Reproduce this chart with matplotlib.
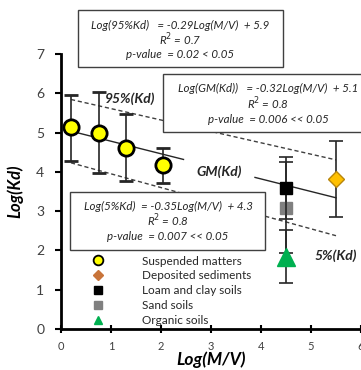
import matplotlib
matplotlib.use("Agg")
import matplotlib.pyplot as plt
from matplotlib.patches import Rectangle
from matplotlib.lines import Line2D

plt.rcParams['font.family'] = ['Lato', 'DejaVu Sans']

# suspended matters
sm_x = [0.2, 0.75, 1.3, 2.03]
sm_y = [5.15, 5.0, 4.61, 4.17]
sm_lo = [0.87, 1.02, 0.84, 0.46]
sm_hi = [0.8, 1.04, 0.86, 0.43]

# deposited sediments
ds_x = [5.5]
ds_y = [3.81]
ds_err = [0.97]

# soils
loam_x, loam_y, loam_err = [4.5], [3.58], [0.79]
sand_x, sand_y, sand_err = [4.5], [3.09], [1.15]
org_x, org_y, org_err = [4.5], [1.84], [0.68]

# regressions (slope, intercept)
reg_95 = (-0.29, 5.9)
reg_gm = (-0.32, 5.1)
reg_5 = (-0.35, 4.3)
reg_x = [0.2, 5.5]
gm_segments = [[0.2, 2.45], [3.88, 5.5]]

box_95 = ["Log(95%Kd)   = -0.29Log(M/V)  + 5.9", "R$^2$ = 0.7", "p-value  = 0.02 < 0.05"]
box_gm = ["Log(GM(Kd))   = -0.32Log(M/V)  + 5.1", "R$^2$ = 0.8", "p-value  = 0.006 << 0.05"]
box_5 = ["Log(5%Kd)  = -0.35Log(M/V)  + 4.3", "R$^2$ = 0.8", "p-value  = 0.007 << 0.05"]

W, H = 361, 370
fig = plt.figure(figsize=(W / 100, H / 100), dpi=100)
xmax = 6.3
ax = fig.add_axes([61 / W, 41 / H, 50 * xmax / W, 275 / H])
ax.set_xlim(0, xmax)
ax.set_ylim(0, 7)

ax.spines['top'].set_visible(False)
ax.spines['right'].set_visible(False)
for s in ['left', 'bottom']:
    ax.spines[s].set_linewidth(2)
ax.set_xticks(range(0, 7))
ax.set_yticks(range(0, 8))
ax.tick_params(axis='both', direction='out', length=4, width=1.5, colors='black',
               labelcolor='#404040', labelsize=10)
ax.tick_params(axis='y', pad=8)
ax.tick_params(axis='x', direction='inout', length=6, labelsize=8, pad=6)

ax.set_xlabel('Log(M/V)', fontsize=12.5, fontweight='bold', style='italic')
ax.xaxis.set_label_coords(3 / xmax, -0.082)
ax.set_ylabel('Log(Kd)', fontsize=12, fontweight='bold', style='italic')
ax.yaxis.set_label_coords(-0.118, 0.5)

# regression lines
def line(reg, xs):
    return [reg[0] * x + reg[1] for x in xs]

ax.plot(reg_x, line(reg_95, reg_x), ls=(0, (3, 2)), color='#404040', lw=1, zorder=2)
ax.plot(reg_x, line(reg_5, reg_x), ls=(0, (3, 2)), color='#404040', lw=1, zorder=2)
for seg in gm_segments:
    ax.plot(seg, line(reg_gm, seg), color='#262626', lw=1, zorder=2)

eb = dict(capsize=5, elinewidth=1.2, capthick=1.2, ecolor='#262626', ls='none')
ax.errorbar(sand_x, sand_y, yerr=sand_err, marker='s', ms=9, mfc='#808080', mec='#808080', zorder=3, **eb)
ax.errorbar(loam_x, loam_y, yerr=loam_err, marker='s', ms=9, mfc='black', mec='black', zorder=4, **eb)
ax.errorbar(org_x, org_y, yerr=org_err, marker='^', ms=13, mfc='#00B050', mec='#00B050', zorder=4, **eb)
ax.errorbar(ds_x, ds_y, yerr=ds_err, marker='D', ms=8, mfc='#FFC000', mec='#B8860B', zorder=4, **eb)
ax.errorbar(sm_x, sm_y, yerr=[sm_lo, sm_hi], marker='o', ms=11, mfc='#FFFF00', mec='black',
            mew=2, zorder=5, **eb)

lab = dict(fontsize=10, fontweight='bold', style='italic', color='#262626')
ax.text(1.38, 5.85, '95%(Kd)', ha='center', va='center', **lab)
ax.text(3.16, 4.0, 'GM(Kd)', ha='center', va='center',
        bbox=dict(facecolor='white', edgecolor='none', pad=1), zorder=3, **lab)
ax.text(5.08, 1.87, '5%(Kd)', ha='left', va='center', **lab)

# legend
handles = [
    Line2D([], [], ls='none', marker='o', ms=7, mfc='#FFFF00', mec='black', mew=1.3),
    Line2D([], [], ls='none', marker='D', ms=5, mfc='#C8743A', mec='#C8743A'),
    Line2D([], [], ls='none', marker='s', ms=6, mfc='black', mec='black'),
    Line2D([], [], ls='none', marker='s', ms=6, mfc='#808080', mec='#808080'),
    Line2D([], [], ls='none', marker='^', ms=6, mfc='#00B050', mec='#00B050'),
]
names = ['Suspended matters', 'Deposited sediments', 'Loam and clay soils', 'Sand soils', 'Organic soils']
leg = ax.legend(handles, names, loc='lower left', bbox_to_anchor=(0.085, -0.005), frameon=False,
                fontsize=8.5, handlelength=1, handletextpad=3.2, labelspacing=0.32,
                borderaxespad=0)
for t in leg.get_texts():
    t.set_color('#262626')

# equation boxes (figure pixel coordinates)
def eq_box(x0, y0, x1, y1, lines, cx, ys):
    fig.add_artist(Rectangle((x0 / W, 1 - y1 / H), (x1 - x0) / W, (y1 - y0) / H,
                             transform=fig.transFigure, facecolor='white',
                             edgecolor='#404040', lw=1, zorder=5))
    for txt, yy in zip(lines, ys):
        fig.text(cx / W, 1 - yy / H, txt, ha='center', va='center', fontsize=8.3,
                 style='italic', color='#262626', zorder=6)

eq_box(78, 10, 283, 67, box_95, 180, [25, 40, 55])
eq_box(163, 74, 400, 132, box_gm, 268, [88, 104, 119])
eq_box(70, 192, 265, 250, box_5, 168, [206, 221, 237])

fig.savefig('out.png', dpi=100)
